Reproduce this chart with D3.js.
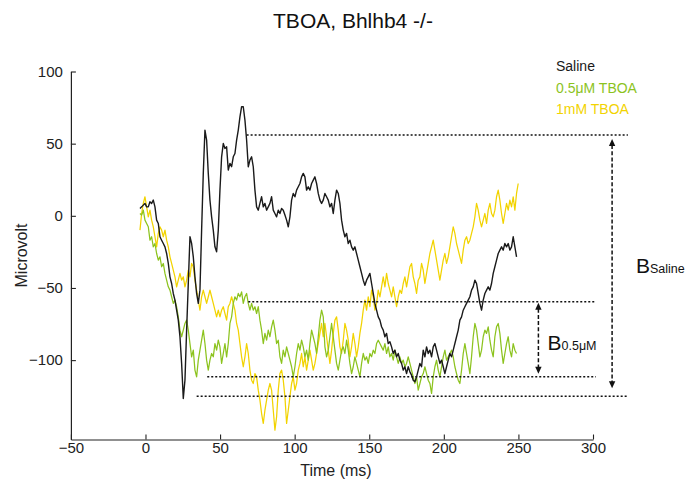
<!DOCTYPE html>
<html>
<head>
<meta charset="utf-8">
<script src="https://cdn.jsdelivr.net/npm/d3@7"></script>
<style>
  body { margin: 0; background: #fff; }
  text { font-family: "Liberation Sans", Arial, Helvetica, sans-serif; }
</style>
</head>
<body>
<svg id="chart" width="691" height="486"></svg>
<script>
// ---- data -----------------------------------------------------------------
const seriesNames = ["Saline", "0.5μM TBOA", "1mM TBOA"];

// Field potential traces (µV), one sample every sampleIntervalMs from sampleStartMs
const sampleStartMs = -3.7;
const sampleIntervalMs = 1.117;

const salineUv = [
  5.1, 6.2, 7.4, 8.6, 6.2, 6.2, 9.7, 8.6, 10.9, 6.2, -3.0, -5.3, -14.5, -16.9, -19.2, -21.5, -26.1, -33.0,
  -42.3, -46.9, -53.8, -58.4, -65.4, -72.3, -83.8, -102.3, -126.6, -113.9, -79.2, -46.9, -14.5, -19.2, -28.4,
  -42.3, -53.8, -60.7, -51.5, -9.9, 29.4, 59.4, 52.5, 29.4, 10.9, -0.7, -9.9, -21.5, -24.9, -9.9, 17.8, 40.9,
  50.1, 46.7, 47.8, 31.7,
  36.3, 34.0, 40.9, 43.2, 52.5, 59.4, 68.6, 75.6, 75.6, 66.3, 52.5, 34.0, 38.6, 40.9, 34.0, 17.8, 6.2, 3.9,
  8.6, 13.2, 6.2, 8.6, 3.9, 6.2, 8.6, 13.2, 3.9, 1.6, -0.7, 3.9, 1.6, 5.1, 3.9, 0.5, -3.0, -7.6, -0.7, 10.9,
  15.5, 13.2, 17.8, 20.1, 22.4, 27.0, 29.4, 27.0, 17.8, 20.1, 17.8, 22.4, 24.7, 27.0, 22.4, 15.5, 10.9, 8.6, 10.9,
  15.5, 13.2, 10.9, 6.2, 8.6, 1.6, 10.9, 17.8, 15.5, 8.6, -3.0, -9.9, -14.5, -12.2, -19.2, -16.9, -21.5, -23.8,
  -21.5, -26.1, -30.7, -35.3, -39.9, -44.6, -48.1, -44.6, -42.3, -39.9, -46.9, -53.8, -60.7, -65.4, -70.0,
  -72.3, -76.9, -79.2, -83.8, -81.5, -88.5, -87.3, -90.8, -95.4, -93.1, -97.7, -95.4, -100.0, -102.3, -106.9,
  -104.6, -109.3, -104.6, -108.1, -110.4, -113.9, -115.0, -111.6, -106.9,
  -102.3, -104.6, -93.1, -97.7, -90.8, -95.4, -93.1, -97.7, -90.8, -88.5, -93.1, -97.7, -102.3, -100.0, -104.6,
  -109.3, -104.6, -100.0, -95.4, -97.7, -93.1, -88.5, -83.8, -79.2, -72.3, -70.0, -65.4, -63.0, -60.7, -58.4,
  -56.1, -51.5, -49.2, -44.6, -46.9, -53.8, -60.7, -65.4, -58.4, -53.8, -51.5, -49.2, -51.5, -46.9, -39.9,
  -35.3, -30.7, -26.1, -23.8, -21.5, -23.8, -19.2, -21.5, -19.2, -23.8, -21.5, -14.5, -21.5, -28.4
];

const tboa05Uv = [
  1.6, 0.5, 3.9, -3.0, -5.3, -7.6, -16.9, -14.5, -21.5, -19.2, -26.1, -30.7, -28.4, -35.3, -33.0, -39.9, -44.6,
  -49.2, -51.5, -56.1, -60.7, -58.4, -63.0, -70.0, -79.2, -83.8, -79.2, -74.6, -72.3, -79.2, -88.5, -97.7,
  -93.1, -106.9, -111.6, -100.0, -93.1, -86.2, -79.2, -88.5, -100.0, -106.9, -100.0, -95.4, -97.7, -88.5,
  -93.1, -86.2, -90.8, -102.3, -95.4, -88.5, -97.7, -88.5,
  -74.6, -70.0, -60.7, -56.1, -58.4, -53.8, -56.1, -52.7, -60.7, -56.1, -53.8, -60.7, -65.4, -60.7, -65.4,
  -63.0, -67.7, -63.0, -72.3, -79.2, -88.5, -81.5, -86.2, -79.2, -83.8, -76.9, -72.3, -79.2, -88.5, -86.2,
  -97.7, -102.3, -93.1, -97.7, -90.8, -95.4, -100.0, -104.6, -111.6, -104.6, -95.4, -88.5, -93.1, -86.2,
  -90.8, -97.7, -93.1, -100.0, -88.5, -79.2, -83.8, -88.5, -95.4, -83.8, -72.3, -65.4, -70.0,
  -90.8, -97.7, -93.1, -83.8, -74.6, -83.8, -93.1, -102.3, -106.9, -100.0, -93.1, -90.8, -95.4, -86.2, -93.1,
  -102.3, -109.3, -104.6, -97.7, -102.3, -106.9, -111.6, -102.3, -95.4, -100.0, -97.7, -102.3, -95.4, -97.7,
  -93.1, -95.4, -88.5, -86.2, -88.5, -90.8, -93.1, -88.5, -95.4, -90.8, -97.7, -95.4, -100.0, -93.1, -97.7,
  -102.3, -97.7, -102.3, -100.0, -104.6, -102.3, -97.7, -102.3, -106.9, -111.6, -116.2, -111.6, -120.8,
  -116.2, -111.6, -109.3, -104.6, -109.3, -113.9, -116.2, -123.1, -111.6, -104.6, -100.0, -106.9, -111.6,
  -104.6, -97.7, -93.1, -100.0, -97.7, -95.4, -93.1, -97.7, -104.6, -109.3, -113.9, -116.2, -106.9, -95.4,
  -88.5, -95.4, -102.3, -109.3, -97.7, -83.8, -74.6, -79.2, -88.5, -97.7, -93.1, -83.8, -79.2, -81.5, -76.9,
  -86.2, -93.1, -97.7, -83.8, -76.9, -74.6, -81.5, -93.1, -102.3, -95.4, -88.5, -83.8, -93.1, -97.7, -88.5,
  -93.1, -95.4
];

const tboa1mUv = [
  -9.9, 1.6, 8.6, 13.2, 6.2, -0.7, 3.9, -3.0, -7.6, -14.5, -21.5, -12.2, -7.6, -9.9, -14.5, -9.9, -16.9, -21.5,
  -28.4, -33.0, -37.6, -42.3, -49.2, -44.6, -39.9, -44.6, -42.3, -49.2, -44.6, -37.6, -42.3, -33.0, -35.3,
  -44.6, -51.5, -58.4, -65.4, -56.1, -51.5, -56.1, -60.7, -56.1, -51.5, -56.1, -60.7, -65.4, -70.0, -65.4,
  -70.0, -65.4, -63.0, -67.7, -72.3, -63.0,
  -60.7, -56.1, -60.7, -65.4, -74.6, -79.2, -88.5, -97.7, -104.6, -97.7, -88.5, -95.4, -106.9, -113.9, -116.2,
  -109.3, -111.6, -120.8, -127.7, -137.0, -143.9, -134.7, -127.7, -120.8, -116.2, -120.8, -134.7, -148.5,
  -139.3, -120.8, -109.3, -106.9, -113.9, -125.4, -143.9, -134.7, -125.4, -116.2, -111.6, -120.8, -116.2,
  -106.9, -102.3, -95.4, -104.6, -97.7, -106.9, -100.0, -93.1, -100.0, -106.9, -102.3, -95.4, -88.5, -81.5,
  -74.6, -83.8,
  -74.6, -83.8, -93.1, -102.3, -93.1, -81.5, -72.3, -70.0, -79.2, -90.8, -95.4, -86.2, -74.6, -79.2, -86.2,
  -97.7, -90.8, -81.5, -88.5, -97.7, -90.8, -81.5, -74.6, -65.4, -58.4, -65.4, -56.1, -63.0, -51.5, -56.1,
  -65.4, -60.7, -51.5, -56.1, -49.2, -42.3, -49.2, -39.9, -46.9, -51.5, -56.1, -49.2, -56.1, -63.0, -56.1,
  -51.5, -53.8, -46.9, -42.3, -49.2, -42.3, -35.3, -33.0, -42.3, -46.9, -53.8, -44.6,
  -42.3, -33.0, -37.6, -46.9, -39.9, -33.0, -26.1, -21.5, -16.9, -23.8, -30.7, -37.6, -44.6, -37.6, -30.7,
  -26.1, -33.0, -28.4, -21.5, -14.5, -7.6, -12.2, -19.2, -23.8, -28.4, -33.0, -23.8, -16.9, -14.5, -19.2,
  -16.9, -12.2, -7.6, -0.7, 8.6, 3.9, -3.0, -7.6, -3.0, 1.6, -5.3, 3.9, 8.6, 1.6, -0.7, 3.9, 13.2, 17.8,
  10.9, 1.6, -5.3, 1.6, 8.6, 3.9, 10.9, 6.2, 13.2, 3.9, 15.5, 22.4
];

const xTicks = [-50, 0, 50, 100, 150, 200, 250, 300];
const yTicks = [-100, -50, 0, 50, 100];

// Amplitude markers (µV): baseline-to-trough levels for saline and 0.5 µM TBOA
const bSalineLevels = [56, -125];
const bSalineStartMs = [67.8, 34.3];
const b05Levels = [-59.5, -111.5];
const b05StartMs = [68.9, 41.4];

// ---- drawing --------------------------------------------------------------
const colors = ["#1a1a1a", "#8cc31e", "#f2d300"];
const svg = d3.select("#chart");

const x = d3.scaleLinear().domain([-50, 300]).range([70.9, 593]);
const y = d3.scaleLinear().domain([-155, 100]).range([439.5, 71.5]);

// title
svg.append("text")
  .attr("x", 353).attr("y", 28)
  .attr("text-anchor", "middle")
  .attr("font-size", 21)
  .attr("fill", "#111")
  .text("TBOA, Bhlhb4 -/-");

// axes (ticks point inward)
const xAxis = svg.append("g")
  .attr("transform", `translate(0,${y(-155)})`)
  .call(d3.axisBottom(x).tickValues(xTicks).tickSize(-5).tickSizeOuter(0).tickPadding(3));
const yAxis = svg.append("g")
  .attr("transform", `translate(${x(-50)},0)`)
  .call(d3.axisLeft(y).tickValues(yTicks).tickSize(-5).tickSizeOuter(0).tickPadding(8));

[xAxis, yAxis].forEach(g => {
  g.select(".domain").attr("stroke", "#222").attr("stroke-width", 1.2);
  g.selectAll(".tick line").attr("stroke", "#222").attr("stroke-width", 1.1);
  g.selectAll(".tick text")
    .attr("font-size", 15)
    .attr("fill", "#222")
    .style("font-family", '"Liberation Sans", Arial, sans-serif');
});

svg.append("text")
  .attr("x", 336).attr("y", 476)
  .attr("text-anchor", "middle")
  .attr("font-size", 16).attr("fill", "#222")
  .text("Time (ms)");

svg.append("text")
  .attr("transform", `translate(27,${(y(-155) + y(100)) / 2}) rotate(-90)`)
  .attr("text-anchor", "middle")
  .attr("font-size", 16).attr("fill", "#222")
  .text("Microvolt");

// traces
const line = d3.line()
  .x((d, i) => x(sampleStartMs + i * sampleIntervalMs))
  .y(d => y(d));

const traces = [tboa1mUv, tboa05Uv, salineUv];
const traceColors = [colors[2], colors[1], colors[0]];
const traceWidths = [1.25, 1.25, 1.4];
svg.append("g").selectAll("path")
  .data(traces)
  .join("path")
  .attr("d", d => line(d))
  .attr("fill", "none")
  .attr("stroke", (d, i) => traceColors[i])
  .attr("stroke-width", (d, i) => traceWidths[i])
  .attr("stroke-linejoin", "round");

// legend
const legend = svg.append("g");
seriesNames.forEach((name, i) => {
  legend.append("text")
    .attr("x", 556).attr("y", 71 + i * 21.5)
    .attr("font-size", 14)
    .attr("fill", colors[i])
    .text(name);
});

// dotted reference levels
const ann = svg.append("g").attr("stroke", "#111").attr("fill", "none");
function level(v, t0, t1) {
  ann.append("line")
    .attr("x1", x(t0)).attr("x2", x(t1))
    .attr("y1", y(v)).attr("y2", y(v))
    .attr("stroke-width", 1.6)
    .attr("stroke-dasharray", "2,2");
}
bSalineLevels.forEach((v, i) => level(v, bSalineStartMs[i], 323.4));
b05Levels.forEach((v, i) => level(v, b05StartMs[i], 301.9));

// double-headed dashed arrows
function arrow(tMs, vTop, vBottom, insetTop, insetBottom) {
  const ax = x(tMs);
  const yt = y(vTop) + insetTop;
  const yb = y(vBottom) - insetBottom;
  const head = 7, half = 3.2;
  ann.append("line")
    .attr("x1", ax).attr("x2", ax)
    .attr("y1", yt + head - 1).attr("y2", yb - head + 1)
    .attr("stroke-width", 1.5)
    .attr("stroke-dasharray", "4,2.2");
  ann.append("path")
    .attr("d", `M${ax},${yt} L${ax - half},${yt + head} L${ax + half},${yt + head} Z`)
    .attr("fill", "#111").attr("stroke", "none");
  ann.append("path")
    .attr("d", `M${ax},${yb} L${ax - half},${yb - head} L${ax + half},${yb - head} Z`)
    .attr("fill", "#111").attr("stroke", "none");
}
arrow(312.8, bSalineLevels[0], bSalineLevels[1], 4, 8);
arrow(263.4, b05Levels[0], b05Levels[1], 1, 3);

// marker labels
function bLabel(px, py, sub) {
  const t = svg.append("text").attr("x", px).attr("y", py).attr("fill", "#111");
  t.append("tspan").attr("font-size", 21).text("B");
  t.append("tspan").attr("font-size", 12.5).text(sub);
}
bLabel(636, 273, "Saline");
bLabel(547.5, 350, "0.5μM");
</script>
</body>
</html>
